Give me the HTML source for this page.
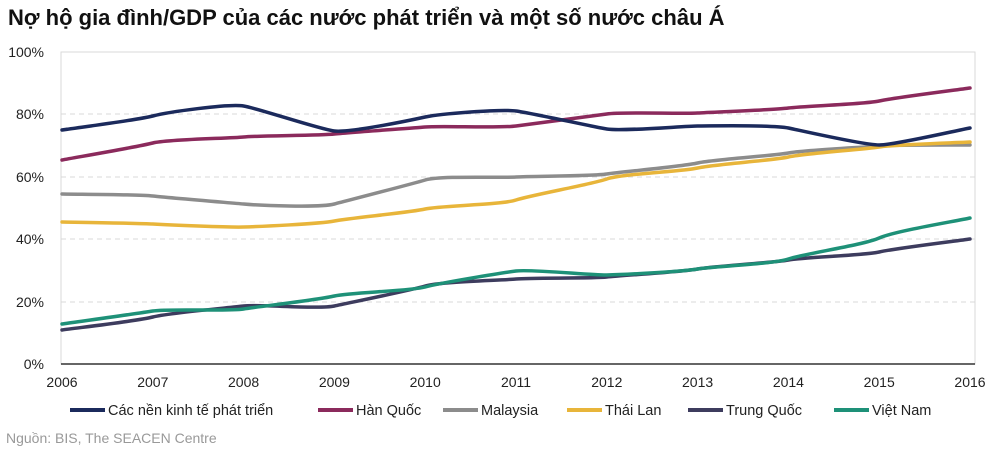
<!DOCTYPE html>
<html><head><meta charset="utf-8"><style>
body{margin:0;background:#fff;width:1000px;height:456px;overflow:hidden;font-family:"Liberation Sans",sans-serif}
</style></head><body>
<svg id="s" width="1000" height="456" xmlns="http://www.w3.org/2000/svg" font-family="Liberation Sans, sans-serif">
<text x="8" y="25" font-size="22" font-weight="bold" fill="#111">Nợ hộ gia đình/GDP của các nước phát triển và một số nước châu Á</text>
<rect x="61" y="52" width="914" height="312" fill="none" stroke="#d9d9d9"/>
<g stroke="#d9d9d9" stroke-dasharray="5,4">
<line x1="61" y1="114" x2="975" y2="114"/><line x1="61" y1="177" x2="975" y2="177"/>
<line x1="61" y1="239" x2="975" y2="239"/><line x1="61" y1="302" x2="975" y2="302"/>
</g>
<line x1="61" y1="364" x2="975" y2="364" stroke="#333" stroke-width="1.5"/>
<g font-size="14" fill="#222" text-anchor="end">
<text x="44" y="57">100%</text><text x="44" y="119">80%</text><text x="44" y="182">60%</text>
<text x="44" y="244">40%</text><text x="44" y="307">20%</text><text x="44" y="369">0%</text>
</g>
<g id="xl" font-size="14" fill="#222" text-anchor="middle"></g>
<g id="lines" fill="none" stroke-width="3.5" stroke-linecap="round"></g>
<g font-size="14.5" fill="#222">
<line x1="70" y1="410" x2="105" y2="410" stroke="#1b2a5c" stroke-width="4"/><text x="108" y="415">Các nền kinh tế phát triển</text>
<line x1="318" y1="410" x2="353" y2="410" stroke="#8b2a5c" stroke-width="4"/><text x="356" y="415">Hàn Quốc</text>
<line x1="443" y1="410" x2="478" y2="410" stroke="#8c8c8c" stroke-width="4"/><text x="481" y="415">Malaysia</text>
<line x1="567" y1="410" x2="602" y2="410" stroke="#e8b53a" stroke-width="4"/><text x="605" y="415">Thái Lan</text>
<line x1="688" y1="410" x2="723" y2="410" stroke="#3d3c5e" stroke-width="4"/><text x="726" y="415">Trung Quốc</text>
<line x1="834" y1="410" x2="869" y2="410" stroke="#1e9178" stroke-width="4"/><text x="872" y="415">Việt Nam</text>
</g>
<text x="6" y="443" font-size="14" fill="#999">Nguồn:  BIS, The SEACEN Centre</text>
</svg>
<script>
var X=function(i){return 62+i*90.8};
var xl=document.getElementById('xl');var h='';
for(var i=0;i<11;i++)h+='<text x="'+X(i)+'" y="387">'+(2006+i)+'</text>';xl.innerHTML=h;
var S=[
['#8c8c8c',[194,196,204,204,180,177,174,163,153,146,145]],
['#e8b53a',[222,224,227,221,209,200,179,168,157,147,142]],
['#3d3c5e',[330,317,306,306,286,279,277,269,260,252,239]],
['#1e9178',[324,311,309,296,287,271,275,269,259,238,218]],
['#8b2a5c',[160,143,137,134,127,126,114,113,108,101,88]],
['#1b2a5c',[130,116,106,131,117,111,129,126,128,145,128]]];
var g='';
S.forEach(function(s){var p=s[1],d='M'+X(0)+','+p[0];
for(var i=0;i<p.length-1;i++){var p0=p[Math.max(i-1,0)],p3=p[Math.min(i+2,p.length-1)];
var x1=X(i)+90.8/6,y1=p[i]+(p[i+1]-p0)/6,x2=X(i+1)-90.8/6,y2=p[i+1]-(p3-p[i])/6;
d+=' C'+x1+','+y1+' '+x2+','+y2+' '+X(i+1)+','+p[i+1];}
g+='<path d="'+d+'" stroke="'+s[0]+'"/>';});
document.getElementById('lines').innerHTML=g;
</script>
</body></html>
